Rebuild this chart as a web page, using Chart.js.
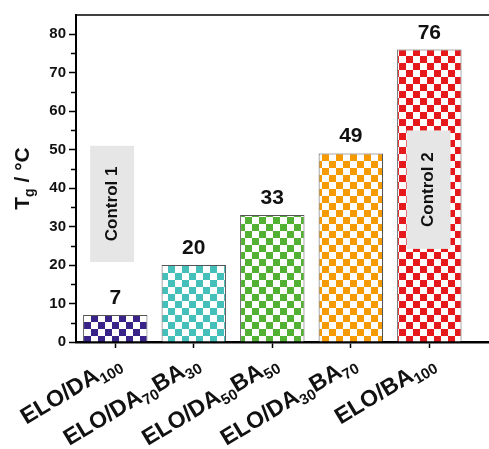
<!DOCTYPE html>
<html>
<head>
<meta charset="utf-8">
<script src="https://cdn.jsdelivr.net/npm/chart.js@4.4.1/dist/chart.umd.min.js"></script>
<style>
html,body{margin:0;padding:0;background:#fff;}
#wrap{width:489px;height:449px;position:relative;}
</style>
</head>
<body>
<div id="wrap"><canvas id="c"></canvas></div>
<script>
// ---- data ----
const labelMain = [["ELO/DA"], ["ELO/DA", "BA"], ["ELO/DA", "BA"], ["ELO/DA", "BA"], ["ELO/BA"]];
const labelSubs = [["100"], ["70", "30"], ["50", "50"], ["30", "70"], ["100"]];
const tgValues = [7, 20, 33, 49, 76];
const barColors = ["#3A2388", "#45BFBA", "#52B032", "#F59A00", "#E5191B"];
const yTicks = [0, 10, 20, 30, 40, 50, 60, 70, 80];
const yMinorTicks = [5, 15, 25, 35, 45, 55, 65, 75];
const controlBoxes = [
  {text: "Control 1", x0: -0.32, x1: 0.24, y0: 20.8, y1: 51},
  {text: "Control 2", x0: 3.71, x1: 4.27, y0: 24.2, y1: 55}
];

const FONT = "'Liberation Sans', Arial, sans-serif";

function checker(color) {
  const s = 7;
  const c = document.createElement('canvas');
  c.width = s * 2; c.height = s * 2;
  const g = c.getContext('2d');
  g.fillStyle = '#fff'; g.fillRect(0, 0, s * 2, s * 2);
  g.fillStyle = color;
  g.fillRect(0, 0, s, s);
  g.fillRect(s, s, s, s);
  return g.createPattern(c, 'repeat');
}

const extras = {
  id: 'extras',
  afterDatasetsDraw(chart) {
    const ctx = chart.ctx;
    const xs = chart.scales.x, ys = chart.scales.y;
    controlBoxes.forEach(b => {
      const l = xs.getPixelForValue(b.x0), r = xs.getPixelForValue(b.x1);
      const t = ys.getPixelForValue(b.y1), bt = ys.getPixelForValue(b.y0);
      ctx.save();
      ctx.fillStyle = '#e6e6e6';
      ctx.fillRect(l, t, r - l, bt - t);
      ctx.translate((l + r) / 2, (t + bt) / 2);
      ctx.rotate(-Math.PI / 2);
      ctx.fillStyle = '#111';
      ctx.font = 'bold 17px ' + FONT;
      ctx.textAlign = 'center';
      ctx.textBaseline = 'middle';
      ctx.fillText(b.text, 0, 0);
      ctx.restore();
    });
    const meta = chart.getDatasetMeta(0);
    meta.data.forEach((bar, i) => {
      ctx.save();
      ctx.fillStyle = '#111';
      ctx.font = 'bold 21px ' + FONT;
      ctx.textAlign = 'center';
      ctx.textBaseline = 'alphabetic';
      ctx.fillText(String(tgValues[i]), bar.x, bar.y - 11);
      ctx.restore();
    });
  },
  afterDraw(chart) {
    const ctx = chart.ctx;
    const xs = chart.scales.x, ys = chart.scales.y;
    const ca = chart.chartArea;
    ctx.save();
    ctx.strokeStyle = '#000';
    ctx.lineWidth = 1.5;
    ctx.beginPath();
    ctx.moveTo(ca.left - 1, ca.top);
    ctx.lineTo(ca.right, ca.top);
    ctx.stroke();
    ctx.lineWidth = 1.5;
    yMinorTicks.forEach(v => {
      const y = Math.round(ys.getPixelForValue(v)) + 0.5;
      ctx.beginPath();
      ctx.moveTo(ca.left - 5, y);
      ctx.lineTo(ca.left, y);
      ctx.stroke();
    });
    // y title: T_g / °C
    ctx.fillStyle = '#111';
    const mainF = 'bold 21px ' + FONT, subF = 'bold 14px ' + FONT;
    ctx.font = mainF; const w1 = ctx.measureText('T').width;
    ctx.font = subF; const w2 = ctx.measureText('g').width;
    ctx.font = mainF; const w3 = ctx.measureText(' / °C').width;
    const tot = w1 + w2 + w3;
    ctx.translate(29, (ca.top + ca.bottom) / 2);
    ctx.rotate(-Math.PI / 2);
    let x = -tot / 2;
    ctx.textBaseline = 'alphabetic';
    ctx.font = mainF; ctx.fillText('T', x, 0); x += w1;
    ctx.font = subF; ctx.fillText('g', x, 5); x += w2;
    ctx.font = mainF; ctx.fillText(' / °C', x, 0);
    ctx.restore();

    // x labels with subscripts
    const ang = 31 * Math.PI / 180;
    labelMain.forEach((mains, i) => {
      const subs = labelSubs[i];
      const pieces = [];
      mains.forEach((m, k) => {
        pieces.push({t: m, sub: false});
        if (subs[k]) pieces.push({t: subs[k], sub: true});
      });
      ctx.save();
      const mF = 'bold 23px ' + FONT, sF = 'bold 15px ' + FONT;
      let total = 0;
      pieces.forEach(p => { ctx.font = p.sub ? sF : mF; p.w = ctx.measureText(p.t).width; total += p.w; });
      const cx = xs.getPixelForValue(i);
      ctx.translate(cx + 7, ca.bottom + 25);
      ctx.rotate(-ang);
      ctx.fillStyle = '#111';
      ctx.textBaseline = 'alphabetic';
      let px = -total;
      pieces.forEach(p => {
        ctx.font = p.sub ? sF : mF;
        ctx.fillText(p.t, px, p.sub ? 5 : 0);
        px += p.w;
      });
      ctx.restore();
    });
  }
};

new Chart(document.getElementById('c'), {
  type: 'bar',
  data: {
    datasets: [{
      data: tgValues.map((v, i) => ({x: i, y: v})),
      backgroundColor: barColors.map(checker),
      borderColor: '#555',
      borderWidth: 1,
      barPercentage: 0.82,
      categoryPercentage: 1.0
    }]
  },
  options: {
    responsive: true,
    maintainAspectRatio: false,
    animation: false,
    layout: {padding: {top: 15, right: 0, left: 0, bottom: 0}},
    plugins: {legend: {display: false}, tooltip: {enabled: false}},
    scales: {
      x: {
        type: 'linear',
        min: -0.5,
        max: 4.76,
        offset: false,
        afterBuildTicks: s => { s.ticks = labelMain.map((_, i) => ({value: i})); },
        afterFit: s => { s.height = 107; },
        ticks: {callback: () => '', padding: 0},
        grid: {display: true, drawOnChartArea: false, offset: false, tickLength: 6, tickColor: '#000', tickWidth: 1.5},
        border: {display: true, color: '#000', width: 2.5}
      },
      y: {
        min: 0,
        max: 85,
        afterBuildTicks: s => { s.ticks = yTicks.map(v => ({value: v})); },
        afterFit: s => { s.width = 76; },
        ticks: {font: {family: FONT, size: 15, weight: 'bold'}, color: '#111', padding: 3},
        grid: {display: true, drawOnChartArea: false, tickLength: 7, tickColor: '#000', tickWidth: 1.5},
        border: {display: true, color: '#000', width: 2}
      }
    }
  },
  plugins: [extras]
});
</script>
</body>
</html>
